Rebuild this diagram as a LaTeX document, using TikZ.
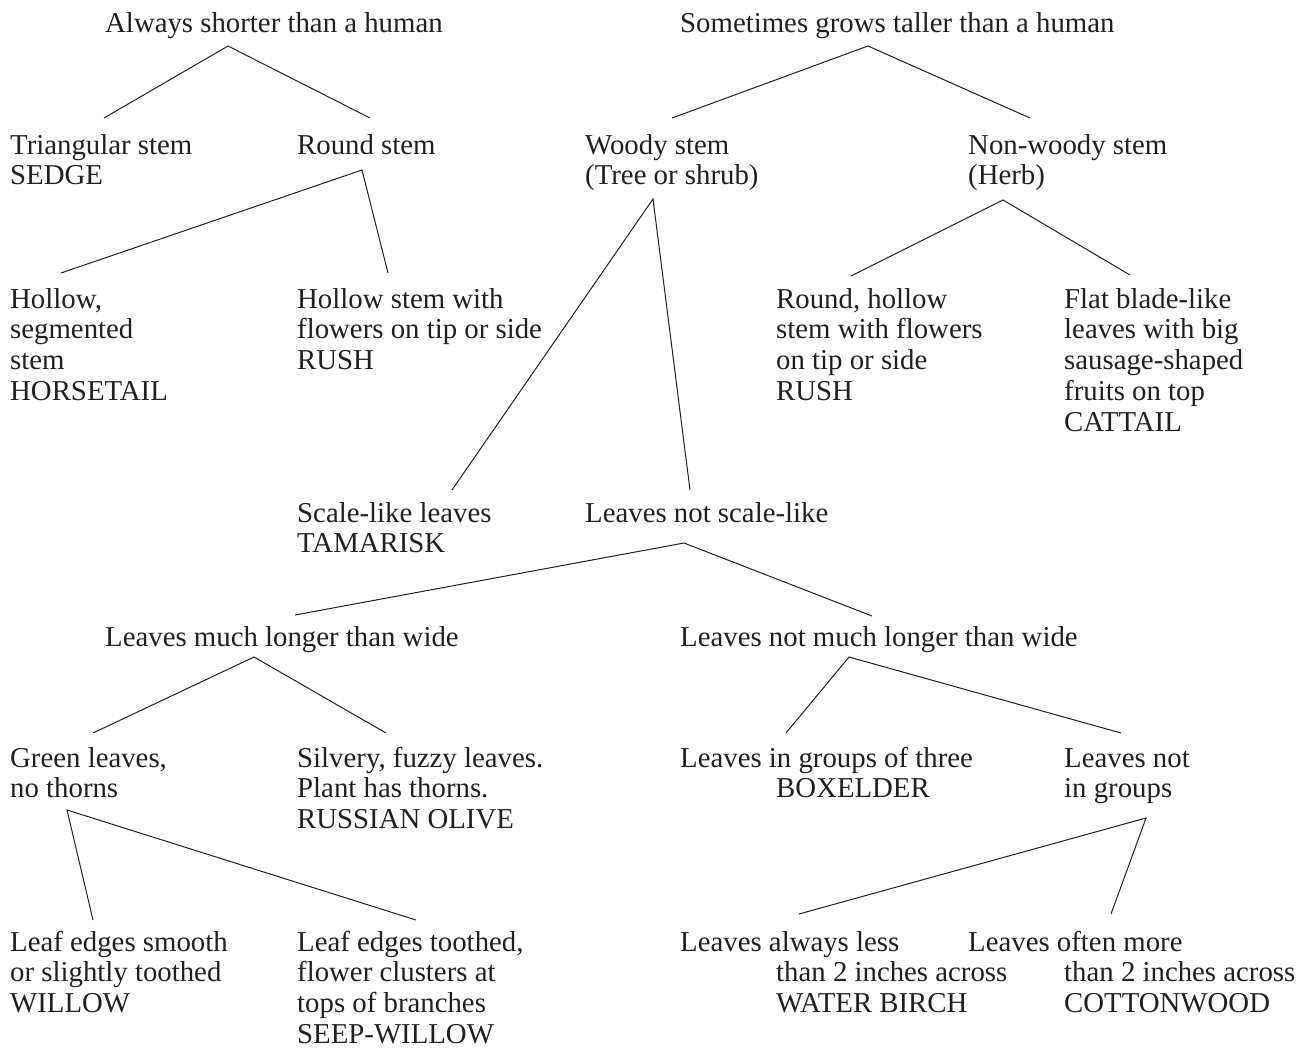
\documentclass[tikz,border=0pt]{standalone}
\usepackage{fontspec}
\setmainfont{Liberation Serif}
\usepackage{tikz}
\usetikzlibrary{positioning}
\definecolor{ink}{HTML}{231F20}
\newcommand{\keyfont}{\fontsize{28.8}{30.8}\selectfont}
\newcommand{\indentkey}{\hspace*{96pt}}

\begin{document}
\begin{tikzpicture}[x=1pt, y=-1pt,
  key/.style={anchor=base west, inner sep=0pt, align=left, font=\keyfont, text=ink},
  branch/.style={line width=1pt, draw=ink}]
\useasboundingbox (0,0) rectangle (1312,1047);

% nodes sit on the baseline of their last line
% first split
\node[key] at (105,32) (short) {Always shorter than a human};
\node[key] at (680,32) (tall) {Sometimes grows taller than a human};

% short plants
\node[key] at (10,184.8) (tri) {Triangular stem\\SEDGE};
\node[key] at (297,154) (round) {Round stem};
\node[key] at (10,400.4) (hollow) {Hollow,\\segmented\\stem\\HORSETAIL};
\node[key] at (297,369.6) (rush) {Hollow stem with\\flowers on tip or side\\RUSH};

% tall plants
\node[key] at (585,184.8) (woody) {Woody stem\\(Tree or shrub)};
\node[key] at (968,184.8) (herb) {Non-woody stem\\(Herb)};
\node[key] at (776,400.4) (rushb) {Round, hollow\\stem with flowers\\on tip or side\\RUSH};
\node[key] at (1064,431.2) (cattail) {Flat blade-like\\leaves with big\\sausage-shaped\\fruits on top\\CATTAIL};

% trees and shrubs
\node[key] at (297,552.8) (scale) {Scale-like leaves\\TAMARISK};
\node[key] at (585,522) (noscale) {Leaves not scale-like};
\node[key] at (105,646) (long) {Leaves much longer than wide};
\node[key] at (680,646) (wide) {Leaves not much longer than wide};
\node[key] at (10,797.8) (green) {Green leaves,\\no thorns};
\node[key] at (297,828.6) (silver) {Silvery, fuzzy leaves.\\Plant has thorns.\\RUSSIAN OLIVE};
\node[key] at (680,797.8) (three) {Leaves in groups of three\\\indentkey BOXELDER};
\node[key] at (1064,797.8) (single) {Leaves not\\in groups};
\node[key] at (10,1012.6) (smooth) {Leaf edges smooth\\or slightly toothed\\WILLOW};
\node[key] at (297,1043.4) (toothed) {Leaf edges toothed,\\flower clusters at\\tops of branches\\SEEP-WILLOW};
\node[key] at (680,1012.6) (small) {Leaves always less\\\indentkey than 2 inches across\\\indentkey WATER BIRCH};
\node[key] at (968,1012.6) (big) {Leaves often more\\\indentkey than 2 inches across\\\indentkey COTTONWOOD};

% forks and branch ends
\coordinate (short-f) at (228,46);
\coordinate (tri-e) at (104,118);
\coordinate (round-e) at (370,118);
\coordinate (round-f) at (362,170);
\coordinate (hollow-e) at (61,273);
\coordinate (rush-e) at (388,273);
\coordinate (tall-f) at (868,46);
\coordinate (woody-e) at (672,118);
\coordinate (herb-e) at (1030,118);
\coordinate (woody-f) at (653,199);
\coordinate (scale-e) at (452,490);
\coordinate (noscale-e) at (690,490);
\coordinate (herb-f) at (1003,200);
\coordinate (rushb-e) at (851,276);
\coordinate (cattail-e) at (1130,275);
\coordinate (noscale-f) at (684,543);
\coordinate (long-e) at (295,615);
\coordinate (wide-e) at (872,616);
\coordinate (long-f) at (254,657);
\coordinate (green-e) at (93,733);
\coordinate (silver-e) at (386,733);
\coordinate (wide-f) at (849,657);
\coordinate (three-e) at (786,733);
\coordinate (single-e) at (1121,733);
\coordinate (green-f) at (67,810);
\coordinate (smooth-e) at (93,920);
\coordinate (toothed-e) at (416,920);
\coordinate (single-f) at (1146,818);
\coordinate (small-e) at (799,914);
\coordinate (big-e) at (1111,914);

\draw[branch] (tri-e) -- (short-f) -- (round-e);
\draw[branch] (hollow-e) -- (round-f) -- (rush-e);
\draw[branch] (woody-e) -- (tall-f) -- (herb-e);
\draw[branch] (scale-e) -- (woody-f) -- (noscale-e);
\draw[branch] (rushb-e) -- (herb-f) -- (cattail-e);
\draw[branch] (long-e) -- (noscale-f) -- (wide-e);
\draw[branch] (green-e) -- (long-f) -- (silver-e);
\draw[branch] (three-e) -- (wide-f) -- (single-e);
\draw[branch] (smooth-e) -- (green-f) -- (toothed-e);
\draw[branch] (small-e) -- (single-f) -- (big-e);
\end{tikzpicture}
\end{document}
